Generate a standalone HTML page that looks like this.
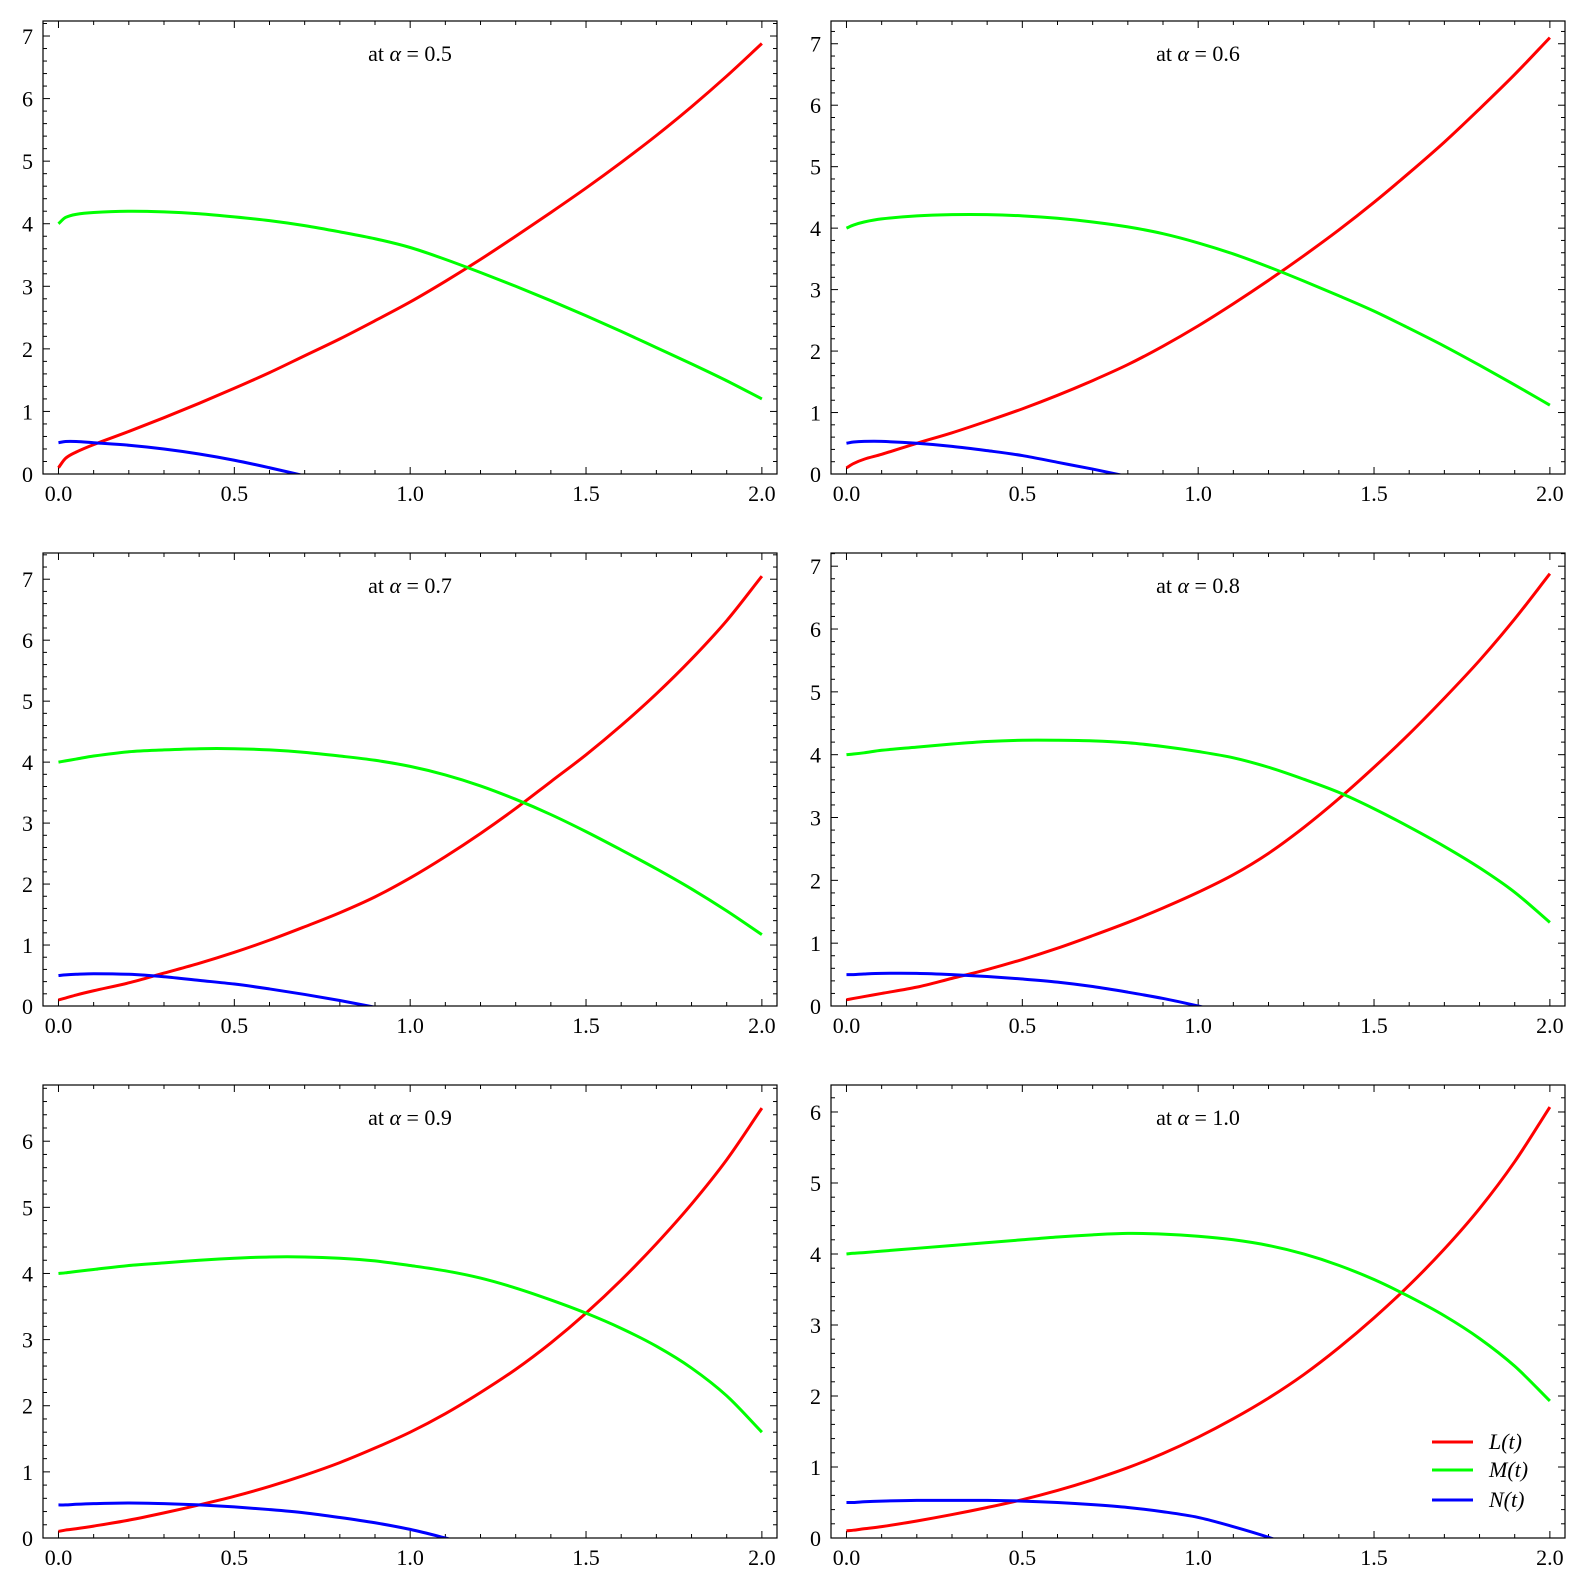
<!DOCTYPE html>
<html><head><meta charset="utf-8"><style>
body{margin:0;background:#fff}
svg{display:block}
text{font-family:"Liberation Serif","DejaVu Serif",serif;fill:#000}
</style></head><body>
<svg id="fig" width="1586" height="1580" viewBox="0 0 1586 1580" xmlns="http://www.w3.org/2000/svg"></svg>
<script>
const T = [0,0.02,0.05,0.1,0.2,0.3,0.4,0.5,0.6,0.7,0.8,0.9,1.0,1.1,1.2,1.3,1.4,1.5,1.6,1.7,1.8,1.9,2.0];
const alphas = ["0.5","0.6","0.7","0.8","0.9","1.0"];
const L05 = [0.1,0.25,0.35,0.47,0.68,0.9,1.13,1.37,1.62,1.89,2.16,2.45,2.75,3.08,3.43,3.8,4.18,4.57,4.98,5.41,5.87,6.36,6.88];
const M05 = [4.0,4.1,4.15,4.18,4.2,4.19,4.16,4.11,4.05,3.97,3.87,3.76,3.62,3.43,3.22,3.0,2.77,2.53,2.28,2.02,1.76,1.49,1.2];
const N05 = [0.5,0.52,0.52,0.5,0.46,0.4,0.32,0.22,0.1,-0.03,-0.16,-0.3,-0.45,-0.6,-0.75,-0.9,-1,-1,-1,-1,-1,-1,-1];
const L06 = [0.1,0.17,0.24,0.32,0.5,0.67,0.86,1.06,1.28,1.52,1.78,2.08,2.41,2.77,3.15,3.55,3.97,4.42,4.9,5.4,5.94,6.5,7.1];
const M06 = [4.0,4.05,4.1,4.15,4.2,4.22,4.22,4.2,4.16,4.1,4.02,3.91,3.76,3.58,3.37,3.14,2.9,2.65,2.37,2.08,1.77,1.45,1.12];
const N06 = [0.5,0.52,0.53,0.53,0.5,0.45,0.38,0.3,0.19,0.08,-0.04,-0.17,-0.3,-0.45,-0.6,-0.75,-0.9,-1,-1,-1,-1,-1,-1];
const L07 = [0.1,0.13,0.18,0.25,0.38,0.54,0.7,0.88,1.08,1.3,1.53,1.79,2.1,2.45,2.83,3.24,3.68,4.12,4.6,5.12,5.69,6.32,7.05];
const M07 = [4.0,4.02,4.05,4.1,4.17,4.2,4.22,4.22,4.2,4.16,4.1,4.03,3.93,3.79,3.61,3.39,3.14,2.86,2.56,2.25,1.92,1.56,1.17];
const N07 = [0.5,0.51,0.52,0.53,0.52,0.48,0.42,0.36,0.28,0.19,0.09,-0.02,-0.14,-0.27,-0.4,-0.55,-0.7,-0.85,-1,-1,-1,-1,-1];
const L08 = [0.1,0.12,0.15,0.2,0.3,0.44,0.58,0.74,0.92,1.12,1.33,1.56,1.81,2.09,2.43,2.84,3.3,3.8,4.33,4.9,5.5,6.16,6.88];
const M08 = [4.0,4.01,4.03,4.07,4.12,4.17,4.21,4.23,4.23,4.22,4.19,4.13,4.05,3.95,3.8,3.61,3.4,3.14,2.85,2.54,2.2,1.81,1.33];
const N08 = [0.5,0.5,0.51,0.52,0.52,0.5,0.47,0.43,0.38,0.31,0.22,0.12,0.0,-0.13,-0.27,-0.42,-0.6,-0.8,-1,-1,-1,-1,-1];
const L09 = [0.1,0.12,0.14,0.18,0.27,0.38,0.5,0.63,0.78,0.95,1.14,1.36,1.6,1.88,2.2,2.55,2.95,3.4,3.9,4.45,5.05,5.72,6.5];
const M09 = [4.0,4.01,4.03,4.06,4.12,4.16,4.2,4.23,4.25,4.25,4.23,4.19,4.12,4.04,3.93,3.78,3.6,3.4,3.17,2.9,2.57,2.15,1.6];
const N09 = [0.5,0.5,0.51,0.52,0.53,0.52,0.5,0.47,0.43,0.38,0.31,0.23,0.13,0.0,-0.14,-0.3,-0.47,-0.65,-0.85,-1,-1,-1,-1];
const L10 = [0.1,0.11,0.13,0.16,0.24,0.33,0.43,0.54,0.67,0.82,0.99,1.19,1.42,1.68,1.97,2.3,2.68,3.1,3.56,4.07,4.64,5.3,6.07];
const M10 = [4.0,4.01,4.02,4.04,4.08,4.12,4.16,4.2,4.24,4.27,4.29,4.28,4.25,4.2,4.12,4.0,3.84,3.64,3.4,3.13,2.81,2.42,1.93];
const N10 = [0.5,0.5,0.51,0.52,0.53,0.53,0.53,0.52,0.5,0.47,0.43,0.37,0.29,0.16,0.01,-0.17,-0.38,-0.6,-0.85,-1,-1,-1,-1];
const yMax = [7.24,7.37,7.43,7.21,6.85,6.38];
const xTicks = ["0.0","0.5","1.0","1.5","2.0"];

const Ls=[L05,L06,L07,L08,L09,L10], Ms=[M05,M06,M07,M08,M09,M10], Ns=[N05,N06,N07,N08,N09,N10];
const svg=document.getElementById('fig');
const NS='http://www.w3.org/2000/svg';
function mk(tag,attrs,parent){const e=document.createElementNS(NS,tag);for(const k in attrs)e.setAttribute(k,attrs[k]);(parent||svg).appendChild(e);return e;}
const lefts=[43,831], tops=[21,553,1085], W=734, H=453, XMIN=-0.044, XMAX=2.043;
function smooth(pts){let d='M'+pts[0][0].toFixed(2)+','+pts[0][1].toFixed(2);
 for(let i=0;i<pts.length-1;i++){const p0=pts[Math.max(0,i-1)],p1=pts[i],p2=pts[i+1],p3=pts[Math.min(pts.length-1,i+2)];
 const h=p2[0]-p1[0];
 const m1=(p2[1]-p0[1])/((p2[0]-p0[0])||1), m2=(p3[1]-p1[1])/((p3[0]-p1[0])||1);
 const c1=[p1[0]+h/3,p1[1]+m1*h/3],c2=[p2[0]-h/3,p2[1]-m2*h/3];
 d+=' C'+c1[0].toFixed(2)+','+c1[1].toFixed(2)+' '+c2[0].toFixed(2)+','+c2[1].toFixed(2)+' '+p2[0].toFixed(2)+','+p2[1].toFixed(2);}return d;}
for(let p=0;p<6;p++){
 const x0=lefts[p%2], y0=tops[Math.floor(p/2)], ym=yMax[p];
 const g=mk('g',{});
 
 
 const sx=v=>x0+(v-XMIN)/(XMAX-XMIN)*W, sy=v=>y0+H-v/ym*H;
 const cp=mk('clipPath',{id:'c'+p},g); mk('rect',{x:x0,y:y0,width:W,height:H},cp);
 const tk=mk('g',{stroke:'#000','stroke-width':1},g);
 
 
 for(let i=0;i<=20;i++){const v=i*0.1,x=sx(v),len=(i%5==0)?7:4;
  mk('line',{x1:x,x2:x,y1:y0+H,y2:y0+H-len},tk);mk('line',{x1:x,x2:x,y1:y0,y2:y0+len},tk);
  if(i%5==0){const t=mk('text',{x:x,y:y0+H+27,'text-anchor':'middle','font-size':22},g);t.textContent=xTicks[i/5];
   
   }}
 for(let i=0;i*0.2<=ym+1e-9;i++){const v=i*0.2,y=sy(v),maj=(i%5==0),len=maj?7:4;
  mk('line',{x1:x0,x2:x0+len,y1:y,y2:y},tk);mk('line',{x1:x0+W,x2:x0+W-len,y1:y,y2:y},tk);
  if(maj){const t=mk('text',{x:x0-10,y:y+8,'text-anchor':'end','font-size':22},g);t.textContent=String(i/5);
   
   }}
 const series=[[Ls[p],'#ff0000','L'],[Ms[p],'#00ff00','M'],[Ns[p],'#0000ff','N']];
 for(const [arr,col,nm] of series){
  const pts=T.map((t,i)=>[sx(t),sy(arr[i])]);
  const path=mk('path',{d:smooth(pts),fill:'none',stroke:col,'stroke-width':3,'clip-path':'url(#c'+p+')'},g);
  
  
 }
 const box=mk('rect',{x:x0,y:y0,width:W,height:H,fill:'none',stroke:'#000','stroke-width':1.2},g);
 
 
 const tt=mk('text',{x:x0+W/2,y:y0+40,'text-anchor':'middle','font-size':22},g);
 tt.innerHTML='at <tspan font-style="italic">α</tspan> = '+alphas[p];
 
 
}
const lg=mk('g',{});


[['L(t)','#ff0000',1442],['M(t)','#00ff00',1470],['N(t)','#0000ff',1500]].forEach(([lab,col,y])=>{
 const e=mk('g',{},lg);
 
 
 mk('line',{x1:1432,x2:1473,y1:y,y2:y,stroke:col,'stroke-width':3},e);
 const t=mk('text',{x:1489,y:y+7,'font-size':22,'font-style':'italic'},e);t.textContent=lab;
});
</script>
</body></html>
